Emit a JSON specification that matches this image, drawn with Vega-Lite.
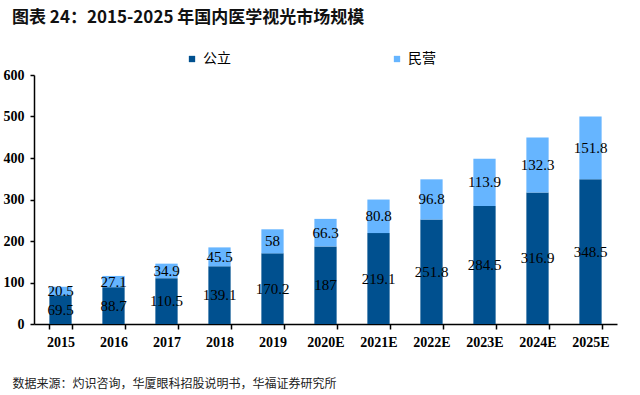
{
  "$schema": "https://vega.github.io/schema/vega-lite/v6.json",
  "width": 583,
  "height": 249,
  "autosize": "none",
  "padding": {"left": 34, "top": 75, "right": 23, "bottom": 71},
  "background": "white",
  "title": {
    "text": "图表 24：2015-2025 年国内医学视光市场规模",
    "anchor": "start",
    "frame": "group",
    "dx": -22,
    "font": "Noto Sans CJK SC",
    "fontSize": 17,
    "fontWeight": "bold",
    "color": "#111111",
    "baseline": "top",
    "offset": 0,
    "dy": -25
  },
  "data": {
    "values": [
      {"year": "2015", "type": "公立", "value": 69.5},
      {"year": "2015", "type": "民营", "value": 20.5},
      {"year": "2016", "type": "公立", "value": 88.7},
      {"year": "2016", "type": "民营", "value": 27.1},
      {"year": "2017", "type": "公立", "value": 110.5},
      {"year": "2017", "type": "民营", "value": 34.9},
      {"year": "2018", "type": "公立", "value": 139.1},
      {"year": "2018", "type": "民营", "value": 45.5},
      {"year": "2019", "type": "公立", "value": 170.2},
      {"year": "2019", "type": "民营", "value": 58},
      {"year": "2020E", "type": "公立", "value": 187},
      {"year": "2020E", "type": "民营", "value": 66.3},
      {"year": "2021E", "type": "公立", "value": 219.1},
      {"year": "2021E", "type": "民营", "value": 80.8},
      {"year": "2022E", "type": "公立", "value": 251.8},
      {"year": "2022E", "type": "民营", "value": 96.8},
      {"year": "2023E", "type": "公立", "value": 284.5},
      {"year": "2023E", "type": "民营", "value": 113.9},
      {"year": "2024E", "type": "公立", "value": 316.9},
      {"year": "2024E", "type": "民营", "value": 132.3},
      {"year": "2025E", "type": "公立", "value": 348.5},
      {"year": "2025E", "type": "民营", "value": 151.8}
    ]
  },
  "transform": [
    {"stack": "value", "groupby": ["year"], "sort": [{"field": "type", "order": "ascending"}], "as": ["v0", "v1"]},
    {"calculate": "(datum.v0 + datum.v1) / 2", "as": "mid"}
  ],
  "encoding": {
    "x": {
      "field": "year",
      "type": "nominal",
      "sort": null,
      "scale": {"paddingInner": 0.58, "paddingOuter": 0.29},
      "axis": {
        "title": "数据来源：灼识咨询，华厦眼科招股说明书，华福证券研究所",
        "titleAnchor": "start",
        "titleAlign": "left",
        "titleX": -22,
        "titleY": 59,
        "titleBaseline": "middle",
        "titleFont": "Noto Sans CJK SC",
        "titleFontSize": 12,
        "titleFontWeight": "normal",
        "titleColor": "#222222",
        "labelAngle": 0,
        "labelFont": "Liberation Serif",
        "labelFontSize": 14,
        "labelFontWeight": "bold",
        "labelColor": "#000000",
        "labelPadding": 6,
        "tickBand": "extent",
        "tickSize": 5,
        "tickColor": "#000000",
        "tickWidth": 1.5,
        "domainColor": "#000000",
        "domainWidth": 1.5,
        "grid": false
      }
    }
  },
  "layer": [
    {
      "mark": {"type": "bar"},
      "encoding": {
        "y": {
          "field": "v0",
          "type": "quantitative",
          "scale": {"domain": [0, 600], "nice": false},
          "axis": {
            "title": null,
            "values": [0, 100, 200, 300, 400, 500, 600],
            "labelFont": "Liberation Serif",
            "labelFontSize": 14,
            "labelFontWeight": "bold",
            "labelColor": "#000000",
            "labelPadding": 6,
            "tickSize": 4,
            "tickColor": "#000000",
            "tickWidth": 1.5,
            "domainColor": "#000000",
            "domainWidth": 1.5,
            "grid": false
          }
        },
        "y2": {"field": "v1"},
        "color": {
          "field": "type",
          "type": "nominal",
          "scale": {"domain": ["公立", "民营"], "range": ["#00508F", "#66B5FF"]},
          "legend": {
            "title": null,
            "orient": "none",
            "legendX": 151,
            "legendY": -23,
            "direction": "horizontal",
            "symbolType": "square",
            "symbolSize": 40,
            "symbolStrokeWidth": 0,
            "labelFont": "Noto Sans CJK SC",
            "labelFontSize": 14,
            "labelColor": "#000000",
            "labelOffset": 4,
            "columnPadding": 159
          }
        }
      }
    },
    {
      "mark": {"type": "text", "font": "Liberation Serif", "fontSize": 15, "color": "#000000", "baseline": "middle"},
      "encoding": {
        "y": {"field": "mid", "type": "quantitative"},
        "text": {"field": "value", "type": "quantitative"}
      }
    }
  ],
  "config": {"view": {"stroke": null}}
}
